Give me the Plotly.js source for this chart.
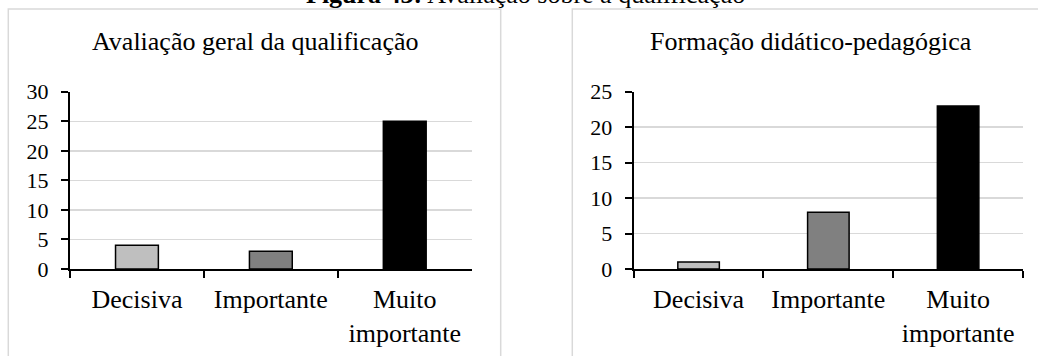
<!DOCTYPE html>
<html>
<head>
<meta charset="utf-8">
<script src="https://cdn.plot.ly/plotly-3.0.1.min.js"></script>
<style>
html,body{margin:0;padding:0;background:#fff;}
#chart{width:1038px;height:356px;}
</style>
</head>
<body>
<div id="chart"></div>
<script>
const categories = ['Decisiva', 'Importante', 'Muito importante'];
const tickLabels = ['Decisiva', 'Importante', 'Muito<br>importante'];
const avaliacaoGeral = [4, 3, 25];
const formacaoDidatica = [1, 8, 23];
const barColors = ['#bfbfbf', '#808080', '#000000'];
const title1 = 'Avaliação geral da qualificação';
const title2 = 'Formação didático-pedagógica';
const caption = '<b>Figura 43:</b> Avaliação sobre a qualificação';

const W = 1038, H = 356;
const px = v => v / W;
const py = v => (H - v) / H;
const FONT = 'Liberation Serif, Times New Roman, serif';

const barTrace = (y, xa, ya) => ({
  type: 'bar', x: categories, y: y, xaxis: xa, yaxis: ya,
  width: 0.32,
  marker: {color: barColors, line: {color: '#000', width: 1.5}},
  hoverinfo: 'skip', showlegend: false
});

const xAxis = (dom, anchor) => ({
  domain: dom, anchor: anchor, type: 'category',
  range: [-0.5, 2.5], tickmode: 'array', tickvals: categories, ticktext: tickLabels,
  tickson: 'boundaries', ticks: 'outside', ticklen: 7, tickwidth: 2, tickcolor: '#000',
  showline: true, linecolor: '#000', linewidth: 2, showgrid: false, zeroline: false,
  tickfont: {family: FONT, size: 26, color: '#000'}, ticklabelstandoff: 6,
  fixedrange: true
});
const yAxis = (maxV, anchor) => ({
  domain: [py(269), py(91.7)], anchor: anchor,
  range: [0, maxV], dtick: 5, tick0: 0,
  ticks: 'outside', ticklen: 7, tickwidth: 2, tickcolor: '#000',
  showline: true, linecolor: '#000', linewidth: 2,
  showgrid: true, gridcolor: '#d9d9d9', gridwidth: 1.5, zeroline: false,
  tickfont: {family: FONT, size: 22, color: '#000'}, ticklabelstandoff: 8,
  fixedrange: true
});

const layout = {
  width: W, height: H, margin: {l: 0, r: 0, t: 0, b: 0},
  paper_bgcolor: '#fff', plot_bgcolor: 'rgba(0,0,0,0)',
  font: {family: FONT, color: '#000'},
  xaxis: xAxis([px(70), px(471.7)], 'y'),
  yaxis: yAxis(30, 'x'),
  xaxis2: xAxis([px(633.7), px(1023)], 'y2'),
  yaxis2: yAxis(25, 'x2'),
  shapes: [
    {type: 'rect', xref: 'paper', yref: 'paper', x0: px(8.3), x1: px(500.7), y0: -0.1, y1: py(9),
     line: {color: '#d9d9d9', width: 1.5}, fillcolor: 'rgba(0,0,0,0)', layer: 'below'},
    {type: 'rect', xref: 'paper', yref: 'paper', x0: px(572.3), x1: 1.1, y0: -0.1, y1: py(9),
     line: {color: '#d9d9d9', width: 1.5}, fillcolor: 'rgba(0,0,0,0)', layer: 'below'}
  ],
  annotations: [
    {text: title1, xref: 'paper', yref: 'paper', x: px(255), y: py(42), xanchor: 'center', yanchor: 'middle',
     showarrow: false, font: {family: FONT, size: 26, color: '#000'}},
    {text: title2, xref: 'paper', yref: 'paper', x: px(811), y: py(42), xanchor: 'center', yanchor: 'middle',
     showarrow: false, font: {family: FONT, size: 26, color: '#000'}},
    {text: caption, xref: 'paper', yref: 'paper', x: px(525), y: py(-5), xanchor: 'center', yanchor: 'middle',
     showarrow: false, font: {family: FONT, size: 26, color: '#000'}}
  ]
};

Plotly.newPlot('chart', [
  barTrace(avaliacaoGeral, 'x', 'y'),
  barTrace(formacaoDidatica, 'x2', 'y2')
], layout, {displayModeBar: false, staticPlot: true});
</script>
</body>
</html>
